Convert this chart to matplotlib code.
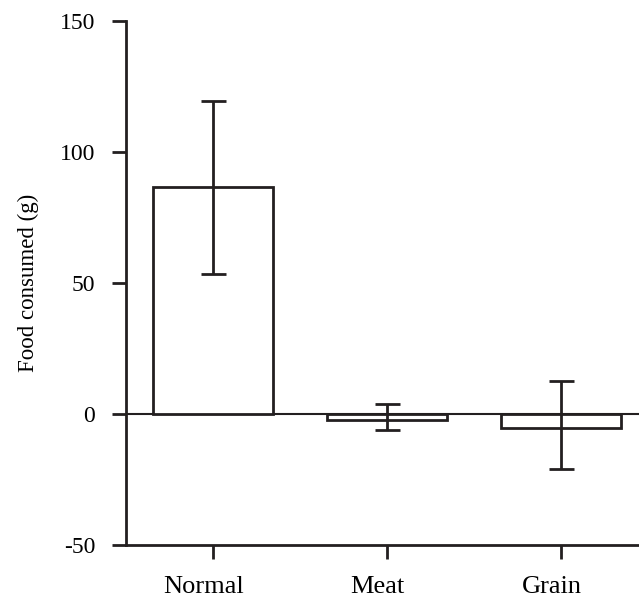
import matplotlib
matplotlib.use("Agg")
import matplotlib.pyplot as plt
import matplotlib.transforms as mtransforms
import numpy as np

categories = ["Normal", "Meat", "Grain"]
values = [86.5, -2.3, -5.3]
err_low = [53.5, -6.1, -21.0]
err_high = [119.5, 3.8, 12.6]

plt.rcParams['font.family'] = ['Liberation Serif', 'DejaVu Serif']
plt.rcParams['axes.unicode_minus'] = False

fig = plt.figure(figsize=(6.39, 6.0), dpi=100)
ax = fig.add_axes([0.197, 0.0917, 0.803, 0.8733])

x = np.arange(len(categories))
vals = np.array(values)
yerr = np.array([vals - np.array(err_low), np.array(err_high) - vals])

ax.bar(x, vals, width=0.69, facecolor='white', edgecolor='#231f20', linewidth=2, zorder=2)
ax.errorbar(x, vals, yerr=yerr, fmt='none', ecolor='#231f20', elinewidth=2, capsize=9, capthick=2, zorder=3)
ax.axhline(0, color='#231f20', linewidth=1.5, zorder=1)

ax.set_xlim(-0.5, 2.45)
ax.set_ylim(-50, 150)
ax.set_yticks([-50, 0, 50, 100, 150])
ax.set_xticks(x)
ax.set_xticklabels(categories)
ax.set_ylabel("Food consumed (g)", fontsize=16.5, labelpad=15)

for s in ['top', 'right']:
    ax.spines[s].set_visible(False)
for s in ['left', 'bottom']:
    ax.spines[s].set_linewidth(2)
    ax.spines[s].set_color('#231f20')
ax.tick_params(axis='both', direction='out', length=10, width=2, color='#231f20')
ax.tick_params(axis='y', labelsize=17, pad=12)
ax.tick_params(axis='x', labelsize=19, pad=12)

offset = mtransforms.ScaledTranslation(-9 / 100, 0, fig.dpi_scale_trans)
for lbl in ax.get_xticklabels():
    lbl.set_transform(lbl.get_transform() + offset)

fig.savefig("out.png", dpi=100)
